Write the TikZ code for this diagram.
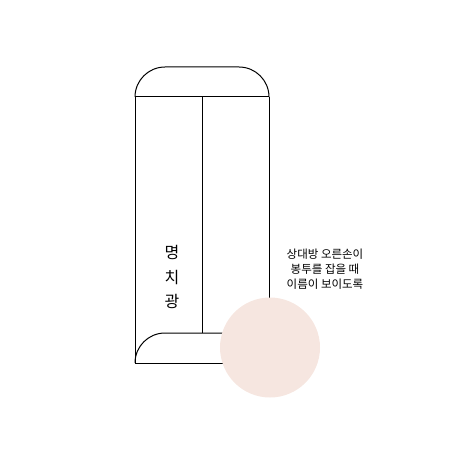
\documentclass[tikz,border=0pt]{standalone}
\usepackage{fontspec}
\setmainfont{Noto Sans CJK KR}
\begin{document}
\begin{tikzpicture}[x=1pt,y=-1pt,
  edge/.style={draw=black,line width=1pt},
  big/.style={font=\fontsize{16}{24.5}\selectfont,align=center,inner sep=0},
  small/.style={font=\fontsize{11.5}{15}\selectfont,align=center,inner sep=0}]
\useasboundingbox (0,0) rectangle (465,465);
\coordinate (tl) at (135,97);
\coordinate (tr) at (269,97);
\draw[edge] (135,97) arc[start angle=180,end angle=270,radius=30] -- (239,67) arc[start angle=270,end angle=360,radius=30];
\draw[edge] (tl) -- (tr);
\draw[edge] (135,97) -- (135,363) -- (269,363) -- (269,97);
\draw[edge] (202,97) -- (202,333);
\draw[edge] (135,363) arc[start angle=180,end angle=270,radius=30] -- (269,333);
\node[big] (name) at (172,277) {명\\치\\광};
\node[small] (note) at (325,269) {상대방 오른손이\\봉투를 잡을 때\\이름이 보이도록};
\fill[fill={rgb,255:red,246;green,230;blue,224}] (270,347.5) circle[radius=50];
\end{tikzpicture}
\end{document}
